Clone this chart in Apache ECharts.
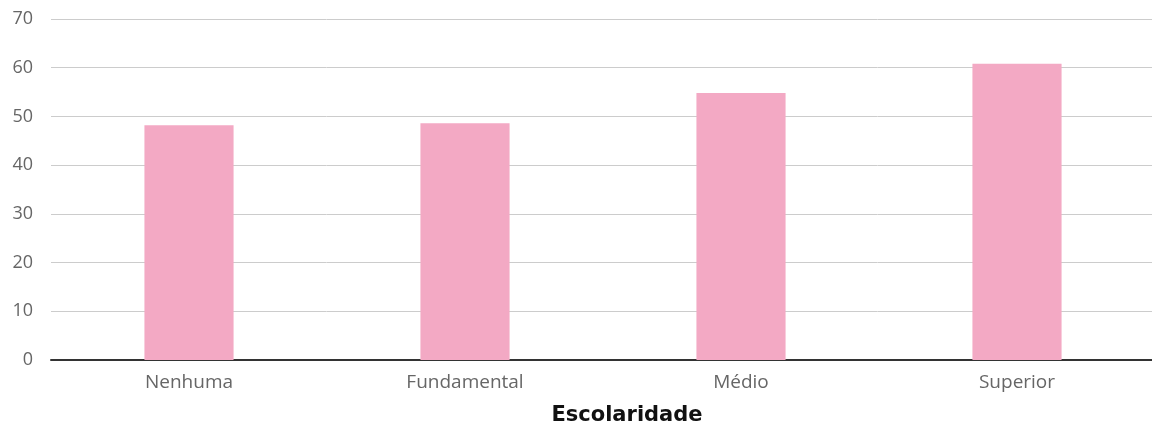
<!DOCTYPE html>
<html><head><meta charset="utf-8">
<script src="https://cdn.jsdelivr.net/npm/echarts@6/dist/echarts.min.js"></script>
<style>html,body{margin:0;padding:0;background:#fff}#c{width:1152px;height:427px}</style>
</head><body><div id="c"></div>
<script>
const categories = ['Nenhuma', 'Fundamental', 'Médio', 'Superior'];
const values = [48.2, 48.6, 54.8, 60.8];
const yTicks = { min: 0, max: 70, interval: 10 };
const axisTitle = 'Escolaridade';

const chart = echarts.init(document.getElementById('c'));
chart.setOption({
  animation: false,
  grid: { left: 51, right: -3, top: 19, bottom: 67, containLabel: false, outerBoundsMode: 'none' },
  xAxis: {
    type: 'category',
    data: categories,
    axisTick: { show: false },
    axisLine: { lineStyle: { color: '#333', width: 2 } },
    axisLabel: { color: '#666', fontSize: 19, fontFamily: 'Open Sans', margin: 13 },
    name: axisTitle,
    nameLocation: 'middle',
    nameGap: 45,
    nameTextStyle: { color: '#111', fontSize: 21, fontWeight: 'bold', fontFamily: 'DejaVu Sans', padding: [0, 0, 0, 48] }
  },
  yAxis: {
    type: 'value',
    min: yTicks.min, max: yTicks.max, interval: yTicks.interval,
    axisLine: { show: false },
    axisTick: { show: false },
    axisLabel: { color: '#666', fontSize: 18, fontFamily: 'Open Sans', margin: 18 },
    splitLine: { lineStyle: { color: '#ccc', width: 1 } }
  },
  series: [{
    type: 'bar',
    data: values,
    barWidth: '32.3%',
    itemStyle: { color: '#f3a9c4' }
  }]
});
</script></body></html>
